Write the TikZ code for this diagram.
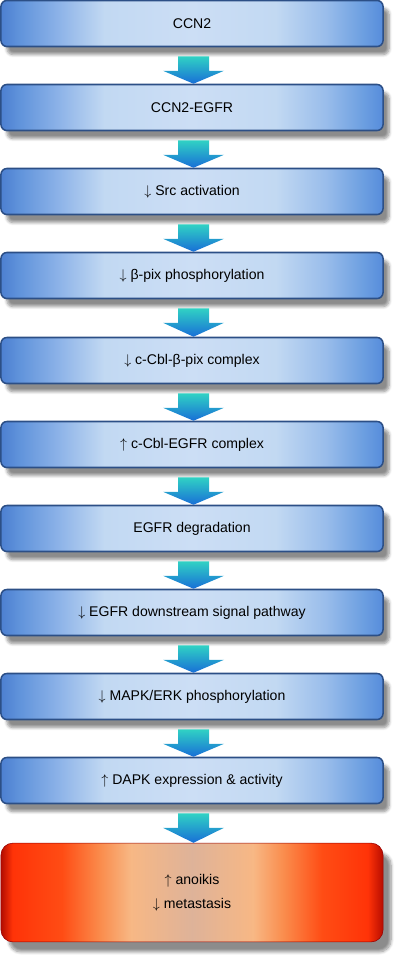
\documentclass[tikz,border=0pt]{standalone}
\usepackage{fontspec}
\setmainfont{Liberation Sans}
\usepackage{tikz}
\usetikzlibrary{calc,shadows.blur}

\pgfdeclarehorizontalshading{boxblue}{100bp}{%
  color(0bp)=(rgb,1:red,0.30;green,0.50;blue,0.82);
  color(25bp)=(rgb,1:red,0.30;green,0.50;blue,0.82);
  color(27.5bp)=(rgb,1:red,0.38;green,0.58;blue,0.86);
  color(32.5bp)=(rgb,1:red,0.55;green,0.70;blue,0.91);
  color(38.5bp)=(rgb,1:red,0.76;green,0.85;blue,0.95);
  color(50bp)=(rgb,1:red,0.80;green,0.87;blue,0.96);
  color(61bp)=(rgb,1:red,0.76;green,0.85;blue,0.95);
  color(67.5bp)=(rgb,1:red,0.60;green,0.74;blue,0.92);
  color(72.5bp)=(rgb,1:red,0.42;green,0.62;blue,0.88);
  color(75bp)=(rgb,1:red,0.34;green,0.55;blue,0.86);
  color(100bp)=(rgb,1:red,0.34;green,0.55;blue,0.86)}

\pgfdeclarehorizontalshading{boxred}{100bp}{%
  color(0bp)=(rgb,1:red,0.70;green,0.05;blue,0.00);
  color(25bp)=(rgb,1:red,0.70;green,0.05;blue,0.00);
  color(26.5bp)=(rgb,1:red,1.00;green,0.20;blue,0.03);
  color(33bp)=(rgb,1:red,1.00;green,0.30;blue,0.08);
  color(38bp)=(rgb,1:red,0.98;green,0.55;blue,0.30);
  color(42bp)=(rgb,1:red,0.97;green,0.72;blue,0.52);
  color(50bp)=(rgb,1:red,0.87;green,0.70;blue,0.60);
  color(58bp)=(rgb,1:red,0.97;green,0.72;blue,0.52);
  color(62bp)=(rgb,1:red,0.98;green,0.55;blue,0.30);
  color(67bp)=(rgb,1:red,1.00;green,0.30;blue,0.08);
  color(73bp)=(rgb,1:red,1.00;green,0.20;blue,0.03);
  color(75bp)=(rgb,1:red,0.72;green,0.05;blue,0.00);
  color(100bp)=(rgb,1:red,0.72;green,0.05;blue,0.00)}

\definecolor{boxline}{RGB}{44,79,134}
\definecolor{arrowtop}{RGB}{48,210,196}
\definecolor{arrowbot}{RGB}{24,110,215}

\tikzset{
  stepbox/.style={rounded corners=0.15cm, draw=boxline, line width=1.1pt,
    shading=boxblue, minimum width=9.55cm, minimum height=1.15cm,
    font=\fontsize{10}{12}\selectfont,
    blur shadow={shadow xshift=0.15cm, shadow yshift=-0.2cm, shadow blur steps=6, shadow opacity=45}},
  endbox/.style={rounded corners=0.3cm, draw=red!60!black, line width=0.4pt,
    shading=boxred, minimum width=9.55cm, minimum height=2.47cm,
    font=\fontsize{10}{17}\selectfont, align=center,
    blur shadow={shadow xshift=0.2cm, shadow yshift=-0.25cm, shadow blur steps=8, shadow opacity=45}},
  flowarrow/.style={top color=arrowtop, bottom color=arrowbot, draw=none}
}

\begin{document}
\begin{tikzpicture}[x=0.025cm, y=-0.025cm]
	\useasboundingbox (0,0) rectangle (404,960);

	\node[stepbox] (ccn) at (192,23.5) {CCN2};
	\node[stepbox] (ccnegfr) at (192,107.5) {CCN2-EGFR};
	\node[stepbox] (src) at (192,191.5) {$\downarrow$ Src activation};
	\node[stepbox] (bpix) at (192,275.5) {$\downarrow$ β-pix phosphorylation};
	\node[stepbox] (cblbpix) at (192,360.5) {$\downarrow$ c-Cbl-β-pix complex};
	\node[stepbox] (cblegfr) at (192,444.5) {$\uparrow$ c-Cbl-EGFR complex};
	\node[stepbox] (degr) at (192,528.5) {EGFR degradation};
	\node[stepbox] (signal) at (192,612.5) {$\downarrow$ EGFR downstream signal pathway};
	\node[stepbox] (mapk) at (192,696.5) {$\downarrow$ MAPK/ERK phosphorylation};
	\node[stepbox] (dapk) at (192,780.5) {$\uparrow$ DAPK expression \& activity};
	\node[endbox] (result) at (192,892.5) {$\uparrow$ anoikis\\$\downarrow$ metastasis};

	% block arrows between the steps
	\foreach \from/\to in {ccn/ccnegfr, ccnegfr/src, src/bpix, bpix/cblbpix,
	    cblbpix/cblegfr, cblegfr/degr, degr/signal, signal/mapk, mapk/dapk, dapk/result}
		\shade[flowarrow] ($(\from.south)+(-14,9)$) -- ($(\from.south)+(17,9)$)
			-- ($(\from.south)+(17,23.5)$) -- ($(\from.south)+(32,23.5)$)
			-- ($(\to.north)+(1.5,0)$) -- ($(\from.south)+(-29,23.5)$)
			-- ($(\from.south)+(-14,23.5)$) -- cycle;

\end{tikzpicture}
\end{document}
